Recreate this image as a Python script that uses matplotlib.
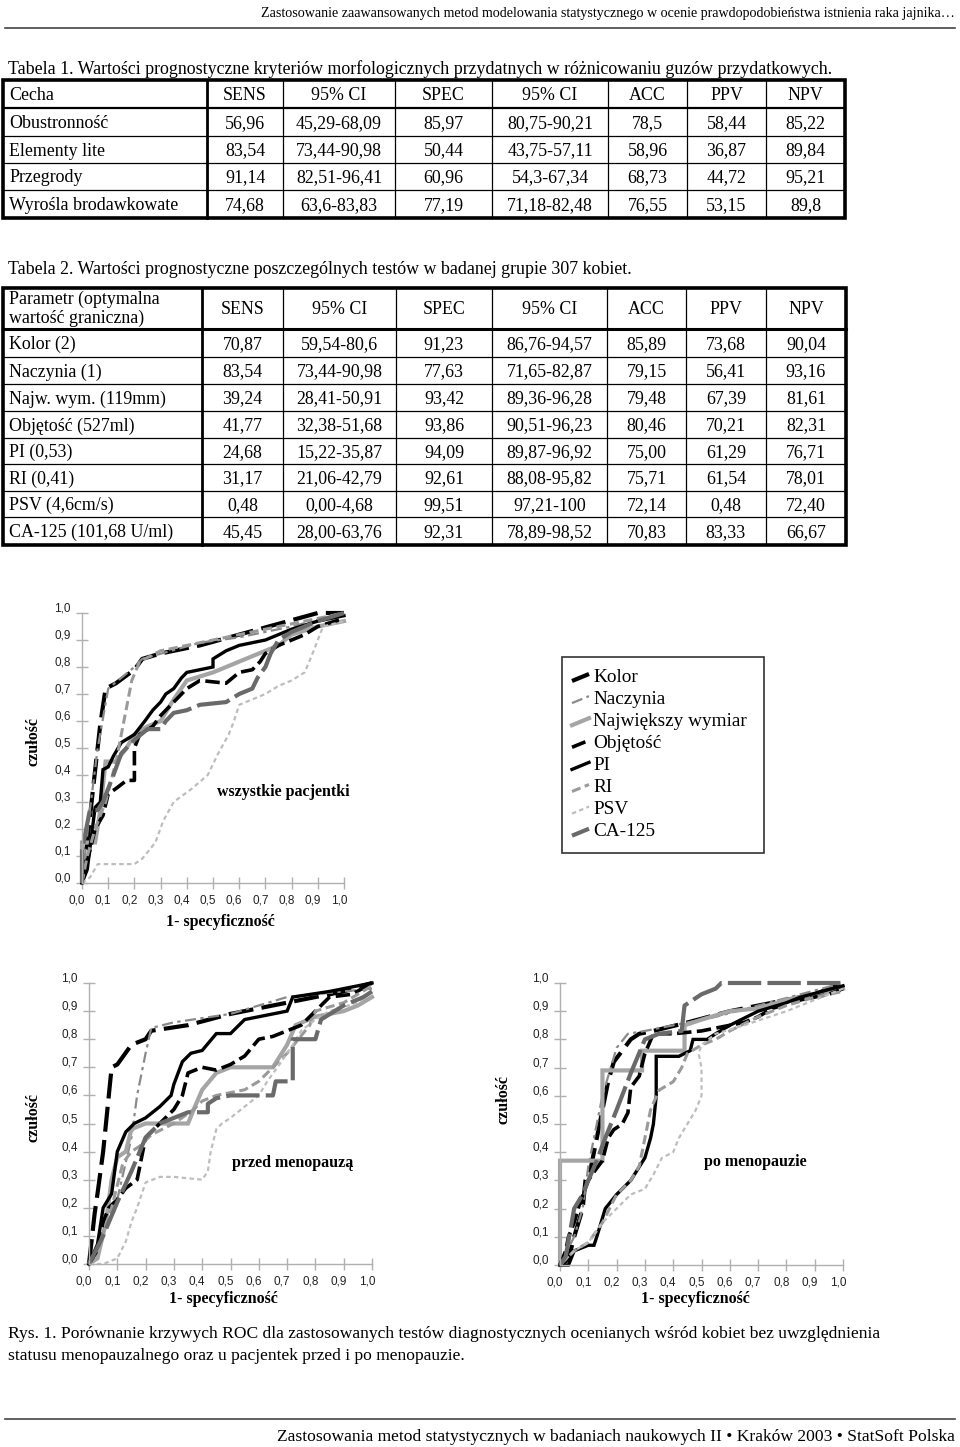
import matplotlib
matplotlib.use("Agg")
import matplotlib.pyplot as plt
import matplotlib.transforms as mtransforms
from matplotlib.patches import Rectangle
from matplotlib.ticker import FuncFormatter

# ---------------- dane: tabele ----------------
t1_cols = ["Cecha", "SENS", "95% CI", "SPEC", "95% CI", "ACC", "PPV", "NPV"]
t1_names = ["Obustronność", "Elementy lite", "Przegrody", "Wyrośla brodawkowate"]
t1_sens = ["56,96", "83,54", "91,14", "74,68"]
t1_sens_ci = ["45,29-68,09", "73,44-90,98", "82,51-96,41", "63,6-83,83"]
t1_spec = ["85,97", "50,44", "60,96", "77,19"]
t1_spec_ci = ["80,75-90,21", "43,75-57,11", "54,3-67,34", "71,18-82,48"]
t1_acc = ["78,5", "58,96", "68,73", "76,55"]
t1_ppv = ["58,44", "36,87", "44,72", "53,15"]
t1_npv = ["85,22", "89,84", "95,21", "89,8"]

t2_cols = ["SENS", "95% CI", "SPEC", "95% CI", "ACC", "PPV", "NPV"]
t2_names = ["Kolor (2)", "Naczynia (1)", "Najw. wym. (119mm)", "Objętość (527ml)",
            "PI (0,53)", "RI (0,41)", "PSV (4,6cm/s)", "CA-125 (101,68 U/ml)"]
t2_sens = ["70,87", "83,54", "39,24", "41,77", "24,68", "31,17", "0,48", "45,45"]
t2_sens_ci = ["59,54-80,6", "73,44-90,98", "28,41-50,91", "32,38-51,68",
              "15,22-35,87", "21,06-42,79", "0,00-4,68", "28,00-63,76"]
t2_spec = ["91,23", "77,63", "93,42", "93,86", "94,09", "92,61", "99,51", "92,31"]
t2_spec_ci = ["86,76-94,57", "71,65-82,87", "89,36-96,28", "90,51-96,23",
              "89,87-96,92", "88,08-95,82", "97,21-100", "78,89-98,52"]
t2_acc = ["85,89", "79,15", "79,48", "80,46", "75,00", "75,71", "72,14", "70,83"]
t2_ppv = ["73,68", "56,41", "67,39", "70,21", "61,29", "61,54", "0,48", "83,33"]
t2_npv = ["90,04", "93,16", "81,61", "82,31", "76,71", "78,01", "72,40", "66,67"]

# ---------------- dane: krzywe ROC (1-spec, czulosc) ----------------
series = ["Kolor", "Naczynia", "Największy wymiar", "Objętość", "PI", "RI", "PSV", "CA-125"]

all_kolor = ([0, .02, .04, .07, .09, .13, .2, .23, .3, .45, .6, .75, .9, 1],
             [0, .15, .33, .59, .72, .74, .79, .83, .85, .88, .92, .96, 1, 1])
all_naczynia = ([0, .03, .06, .1, .2, .23, .45, .6, .8, 1],
                [0, .27, .5, .72, .8, .83, .89, .91, .95, 1])
all_wymiar = ([0, 0, .05, .07, .09, .13, .17, .2, .25, .3, .35, .4, .5, .6, .7, .75, .8, .9, 1],
              [0, .15, .15, .27, .45, .45, .5, .55, .58, .6, .68, .75, .78, .82, .86, .88, .92, .95, .97])
all_objetosc = ([0, .03, .05, .08, .1, .13, .17, .2, .2, .22, .27, .3, .4, .45, .55, .6, .65, .68, .7, .75, .85, .9, 1],
                [0, .12, .2, .25, .33, .35, .38, .38, .5, .55, .58, .62, .72, .75, .74, .78, .79, .82, .85, .88, .92, .95, .98])
all_pi = ([0, .02, .05, .07, .08, .1, .12, .15, .2, .24, .27, .3, .32, .35, .38, .4, .45, .5, .5, .55, .6, .7, .8, .9, 1],
          [0, .05, .28, .3, .42, .43, .47, .52, .55, .6, .64, .67, .7, .72, .76, .78, .79, .8, .83, .86, .88, .9, .94, .97, .99])
all_ri = ([0, .02, .05, .09, .13, .16, .19, .22, .3, .5, .7, 1],
          [0, .1, .2, .3, .45, .6, .75, .82, .86, .9, .94, 1])
all_psv = ([0, .03, .06, .1, .2, .23, .28, .31, .35, .42, .48, .52, .56, .58, .6, .65, .7, .75, .8, .85, .88, .9, .92, 1],
           [0, .02, .07, .07, .07, .09, .15, .23, .3, .35, .4, .48, .55, .6, .66, .68, .7, .73, .75, .78, .85, .9, .95, .97])
all_ca125 = ([0, 0, .03, .06, .08, .1, .12, .15, .2, .25, .3, .32, .35, .4, .45, .55, .6, .65, .67, .7, .72, .75, .8, .9, 1],
             [0, .12, .27, .27, .3, .35, .4, .48, .53, .57, .57, .6, .63, .64, .66, .67, .7, .72, .76, .8, .85, .9, .93, .97, 1])

pre_kolor = ([0, .02, .03, .05, .06, .07, .08, .1, .15, .2, .22, .35, .5, .7, .9, 1],
             [0, .18, .25, .4, .5, .6, .7, .71, .78, .8, .83, .85, .89, .93, .97, 1])
pre_naczynia = ([0, .05, .1, .15, .17, .2, .22, .3, .5, .7, 1],
                [0, .1, .23, .45, .6, .75, .84, .86, .89, .95, .98])
pre_wymiar = ([0, .03, .06, .08, .1, .13, .15, .2, .35, .37, .4, .45, .5, .65, .7, .73, .8, .9, .95, 1],
              [0, .02, .15, .3, .38, .4, .48, .5, .5, .55, .62, .68, .7, .7, .78, .85, .88, .9, .92, .95])
pre_objetosc = ([0, .03, .05, .07, .1, .13, .17, .18, .2, .25, .3, .33, .35, .4, .45, .5, .55, .6, .65, .7, .75, .8, .85, .93, 1],
                [0, .05, .15, .2, .23, .27, .3, .35, .45, .5, .55, .6, .68, .7, .69, .71, .74, .8, .81, .83, .85, .9, .95, .96, 1])
pre_pi = ([0, .03, .05, .08, .1, .13, .16, .2, .25, .29, .3, .33, .36, .4, .45, .5, .55, .6, .7, .72, .85, 1],
          [0, .07, .2, .25, .4, .47, .5, .52, .56, .6, .64, .72, .75, .76, .82, .82, .87, .88, .9, .95, .97, 1])
pre_ri = ([0, .04, .08, .12, .15, .18, .22, .3, .37, .4, .45, .55, .6, .65, .7, .74, .78, .8, .9, 1],
          [0, .08, .2, .36, .4, .42, .46, .5, .55, .58, .6, .62, .65, .7, .75, .8, .85, .9, .93, .99])
pre_psv = ([0, .02, .05, .1, .13, .15, .17, .2, .25, .3, .4, .42, .43, .45, .47, .5, .6, .63, .68, .72, .75, .8, .85, .95, 1],
           [0, 0, 0, .02, .08, .15, .2, .29, .31, .31, .3, .33, .4, .48, .5, .52, .6, .65, .72, .78, .83, .87, .9, .93, .97])
pre_ca125 = ([0, .05, .1, .15, .2, .25, .3, .35, .42, .42, .45, .5, .65, .66, .72, .72, .8, .82, .9, .97, 1],
             [0, .1, .22, .33, .45, .5, .52, .54, .54, .57, .59, .6, .6, .65, .65, .8, .8, .87, .92, .95, .97])

post_kolor = ([0, .03, .05, .08, .09, .11, .13, .15, .17, .19, .22, .25, .28, .33, .45, .6, .75, .9, 1],
              [0, .02, .1, .2, .3, .35, .45, .55, .65, .72, .76, .8, .82, .83, .86, .9, .93, .96, 1])
post_naczynia = ([0, .05, .08, .1, .15, .2, .24, .3, .4, .55, .7, .85, 1],
                 [0, .1, .2, .35, .6, .77, .82, .83, .85, .88, .92, .96, 1])
post_wymiar = ([0, 0, .03, .15, .15, .2, .29, .29, .35, .44, .44, .5, .6, .7, .8, .9, 1],
               [0, .37, .37, .37, .69, .69, .69, .76, .76, .76, .85, .87, .9, .91, .94, .96, .98])
post_objetosc = ([0, .02, .03, .05, .07, .1, .12, .15, .17, .19, .22, .24, .25, .28, .3, .33, .4, .5, .55, .6, .65, .7, .75, .85, .95, 1],
                 [0, .05, .1, .15, .22, .3, .33, .37, .45, .48, .5, .54, .63, .67, .75, .82, .82, .83, .84, .85, .86, .88, .91, .94, .96, .98])
post_pi = ([0, .03, .05, .1, .12, .13, .16, .2, .25, .3, .32, .33, .34, .34, .38, .42, .46, .47, .52, .55, .6, .7, .8, .85, 1],
           [0, 0, .05, .07, .07, .1, .2, .25, .3, .38, .45, .5, .6, .74, .74, .74, .76, .8, .8, .82, .85, .9, .93, .95, .99])
post_ri = ([0, .05, .1, .15, .2, .25, .28, .3, .32, .35, .4, .43, .45, .5, .55, .6, .7, .8, .9, 1],
           [0, .05, .08, .15, .25, .3, .35, .45, .55, .62, .65, .7, .75, .78, .8, .83, .88, .92, .95, .97])
post_psv = ([0, .05, .1, .15, .2, .25, .3, .33, .36, .4, .42, .45, .48, .5, .5, .49, .5, .55, .65, .8, .9, 1],
            [0, .05, .08, .15, .2, .25, .27, .32, .38, .4, .45, .5, .55, .6, .7, .75, .78, .82, .85, .9, .94, .98])
post_ca125 = ([0, .02, .05, .08, .1, .13, .16, .2, .25, .3, .35, .43, .44, .5, .55, .57, .8, 1],
              [0, .03, .2, .25, .3, .37, .45, .55, .68, .8, .82, .83, .92, .96, .98, 1, 1, 1])

roc_all = [all_kolor, all_naczynia, all_wymiar, all_objetosc, all_pi, all_ri, all_psv, all_ca125]
roc_pre = [pre_kolor, pre_naczynia, pre_wymiar, pre_objetosc, pre_pi, pre_ri, pre_psv, pre_ca125]
roc_post = [post_kolor, post_naczynia, post_wymiar, post_objetosc, post_pi, post_ri, post_psv, post_ca125]

# styl kazdej krzywej
styles = [
    dict(color="black", lw=3.0, dashes=(6, 2)),
    dict(color="#8a8a8a", lw=1.6, dashes=(5, 2, 1.5, 2)),
    dict(color="#a5a5a5", lw=3.0),
    dict(color="black", lw=2.6, dashes=(4, 1.5)),
    dict(color="black", lw=2.4),
    dict(color="#9a9a9a", lw=2.2, dashes=(3, 1.5)),
    dict(color="#bdbdbd", lw=1.6, dashes=(2, 1.5)),
    dict(color="#6a6a6a", lw=3.0, dashes=(8, 1.5)),
]

W, H = 960, 1447
serif = "Liberation Serif"
sans = "Liberation Sans"

fig = plt.figure(figsize=(W / 100, H / 100), dpi=100)
page = fig.add_axes([0, 0, 1, 1])
page.set_xlim(0, W)
page.set_ylim(H, 0)
page.axis("off")

# naglowek i stopka
page.text(955, 13, "Zastosowanie zaawansowanych metod modelowania statystycznego w ocenie "
          "prawdopodobieństwa istnienia raka jajnika…", ha="right", va="center",
          family=serif, fontsize=10.1)
page.plot([5, 955], [28, 28], color="#444444", lw=1.2)
page.plot([5, 955], [1419, 1419], color="#444444", lw=1.2)
page.text(955, 1437, "Zastosowania metod statystycznych w badaniach naukowych II \u2022 Kraków 2003 "
          "\u2022 StatSoft Polska", ha="right", va="center", family=serif, fontsize=12.6)

fs_tab = 12.9
base = 6  # przesuniecie linii bazowej od srodka komorki (px)


def cell(x, yc, s, ha="center"):
    page.text(x, yc + base, s, ha=ha, va="baseline", family=serif, fontsize=fs_tab)


def draw_table(rows_y, cols_x, head_lw):
    x0, x1 = cols_x[0], cols_x[-1]
    y0, y1 = rows_y[0], rows_y[-1]
    for i, y in enumerate(rows_y[1:-1]):
        page.plot([x0, x1], [y, y], color="black", lw=head_lw if i == 0 else 0.9)
    for i, x in enumerate(cols_x[1:-1]):
        page.plot([x, x], [y0, y1], color="black", lw=2.0 if i == 0 else 0.9)
    page.add_patch(Rectangle((x0, y0), x1 - x0, y1 - y0, fill=False, lw=2.6, ec="black"))


# Tabela 1
page.text(8, 68 + base, "Tabela 1. Wartości prognostyczne kryteriów morfologicznych przydatnych w "
          "różnicowaniu guzów przydatkowych.", va="baseline", family=serif, fontsize=fs_tab)
t1_x = [3, 207, 283, 395, 492, 608, 687, 766, 845]
t1_y = [80, 108, 136, 163, 190, 218]
draw_table(t1_y, t1_x, 1.6)
t1_body = [t1_names, t1_sens, t1_sens_ci, t1_spec, t1_spec_ci, t1_acc, t1_ppv, t1_npv]
for c, head in enumerate(t1_cols):
    xs = t1_x[0] + 6 if c == 0 else (t1_x[c] + t1_x[c + 1]) / 2
    ha = "left" if c == 0 else "center"
    cell(xs, (t1_y[0] + t1_y[1]) / 2, head, ha)
    for r, val in enumerate(t1_body[c]):
        cell(xs, (t1_y[r + 1] + t1_y[r + 2]) / 2, val, ha)

# Tabela 2
page.text(8, 268 + base, "Tabela 2. Wartości prognostyczne poszczególnych testów w badanej grupie 307 kobiet.",
          va="baseline", family=serif, fontsize=fs_tab)
t2_x = [3, 202, 283, 396, 492, 607, 686, 766, 846]
t2_y = [288, 329, 357, 384, 411, 438, 464, 491, 517, 545]
draw_table(t2_y, t2_x, 2.2)
cell(t2_x[0] + 6, 298, "Parametr (optymalna", "left")
cell(t2_x[0] + 6, 317, "wartość graniczna)", "left")
for c, head in enumerate(t2_cols):
    cell((t2_x[c + 1] + t2_x[c + 2]) / 2, (t2_y[0] + t2_y[1]) / 2, head)
t2_body = [t2_sens, t2_sens_ci, t2_spec, t2_spec_ci, t2_acc, t2_ppv, t2_npv]
for r, name in enumerate(t2_names):
    cy = (t2_y[r + 1] + t2_y[r + 2]) / 2
    cell(t2_x[0] + 6, cy, name, "left")
    for c, col in enumerate(t2_body):
        cell((t2_x[c + 1] + t2_x[c + 2]) / 2, cy, col[r])


# wykresy ROC
def comma(v, pos):
    return ("%.1f" % v).replace(".", ",")


def roc_axes(x0, x1, ybot, ytop, curves, title, tx, ty, ylx, yly, xlx, xly):
    ax = fig.add_axes([x0 / W, 1 - ybot / H, (x1 - x0) / W, (ybot - ytop) / H])
    for (fx, fy), st in zip(curves, styles):
        ax.plot(fx, fy, clip_on=False, solid_joinstyle="miter", **st)
    ax.set_xlim(0, 1)
    ax.set_ylim(0, 1)
    ax.set_xticks([i / 10 for i in range(11)])
    ax.set_yticks([i / 10 for i in range(11)])
    ax.xaxis.set_major_formatter(FuncFormatter(comma))
    ax.yaxis.set_major_formatter(FuncFormatter(comma))
    for s in ["top", "right"]:
        ax.spines[s].set_visible(False)
    for s in ["left", "bottom"]:
        ax.spines[s].set_color("#b0b0b0")
        ax.spines[s].set_linewidth(1.0)
    ax.tick_params(direction="inout", length=8, width=1, color="#b0b0b0",
                   labelsize=8.5, labelcolor="#222222", pad=4)
    ax.patch.set_alpha(0)
    # etykiety w oryginale sa lekko przesuniete wzgledem kresek
    shift_y = mtransforms.ScaledTranslation(0, 0.06, fig.dpi_scale_trans)
    shift_x = mtransforms.ScaledTranslation(-0.05, 0, fig.dpi_scale_trans)
    for lab in ax.get_yticklabels():
        lab.set_family(sans)
        lab.set_transform(lab.get_transform() + shift_y)
    for lab in ax.get_xticklabels():
        lab.set_family(sans)
        lab.set_transform(lab.get_transform() + shift_x)
    page.text(tx, ty, title, ha="center", va="center", family=serif,
              fontsize=11.5, fontweight="bold")
    page.text(ylx, yly, "czułość", ha="center", va="center", rotation=90,
              family=serif, fontsize=11.5, fontweight="bold")
    page.text(xlx, xly, "1- specyficzność", ha="center", va="center",
              family=serif, fontsize=11.5, fontweight="bold")
    return ax


roc_axes(82, 344, 883, 613, roc_all, "wszystkie pacjentki", 283, 792, 33, 742, 220, 922)
roc_axes(89, 372, 1264, 983, roc_pre, "przed menopauzą", 293, 1163, 33, 1117, 223, 1299)
roc_axes(560, 843, 1265, 983, roc_post, "po menopauzie", 755, 1162, 504, 1100, 695, 1299)

# legenda
page.add_patch(Rectangle((562, 657), 202, 196, fill=False, lw=1.2, ec="#333333"))
for i, (name, st) in enumerate(zip(series, styles)):
    y = 677 + i * 22.1
    page.plot([572, 589], [y + 4, y - 3], **st)
    page.text(593, y, name, va="center", family=serif, fontsize=13.9)

# podpis
page.text(8, 1334, "Rys. 1. Porównanie krzywych ROC dla zastosowanych testów diagnostycznych "
          "ocenianych wśród kobiet bez uwzględnienia", va="center", family=serif, fontsize=12.6)
page.text(8, 1356, "statusu menopauzalnego oraz u pacjentek przed i po menopauzie.",
          va="center", family=serif, fontsize=12.6)

fig.savefig("out.png", dpi=100)
